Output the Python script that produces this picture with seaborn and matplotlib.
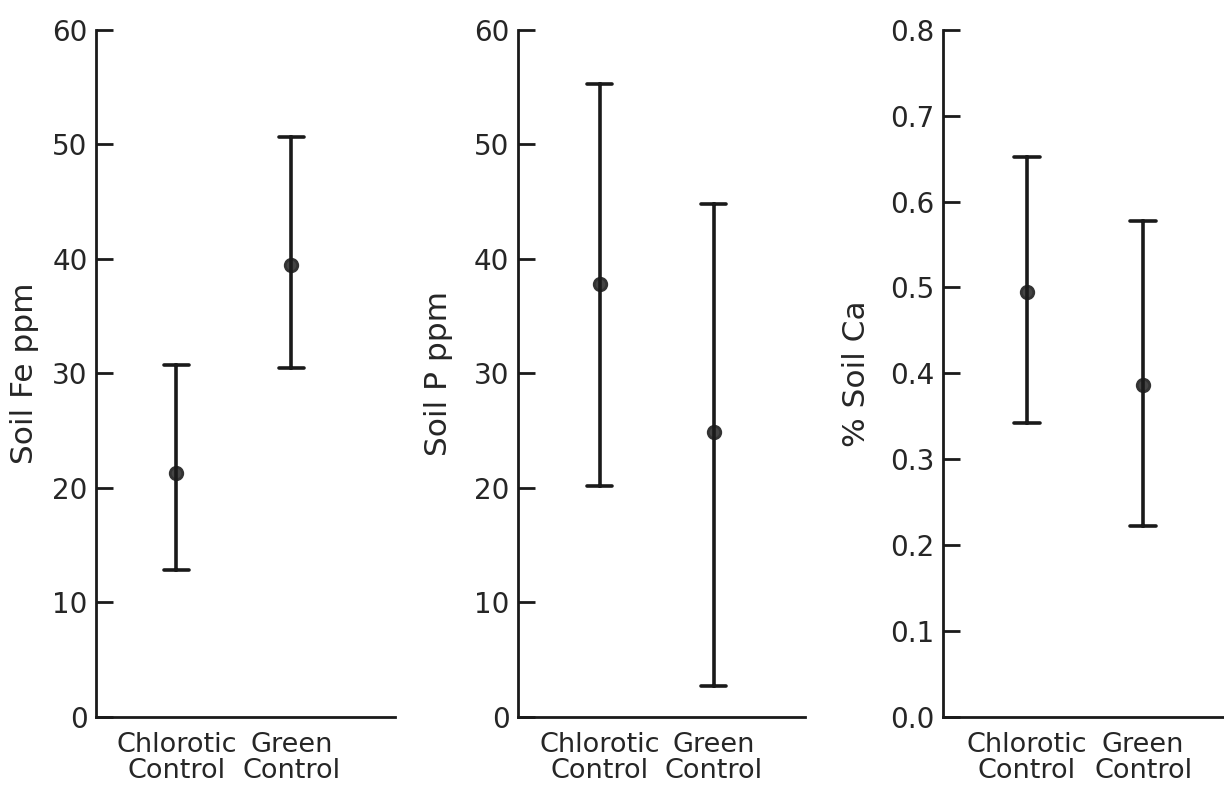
import matplotlib
matplotlib.use("Agg")
import matplotlib.pyplot as plt
import seaborn as sns
import pandas as pd

categories = ["Chlorotic\nControl", "Green\nControl"]

fe_mean = [21.3, 39.5]
fe_low = [12.8, 30.5]
fe_high = [30.7, 50.6]

p_mean = [37.8, 24.9]
p_low = [20.2, 2.7]
p_high = [55.3, 44.8]

ca_mean = [0.495, 0.386]
ca_low = [0.342, 0.222]
ca_high = [0.652, 0.578]

ylabels = ["Soil Fe ppm", "Soil P ppm", "% Soil Ca"]
yticks_list = [[0, 10, 20, 30, 40, 50, 60], [0, 10, 20, 30, 40, 50, 60],
               [0.0, 0.1, 0.2, 0.3, 0.4, 0.5, 0.6, 0.7, 0.8]]
yticklabels_list = [["0", "10", "20", "30", "40", "50", "60"],
                    ["0", "10", "20", "30", "40", "50", "60"],
                    ["0.0", "0.1", "0.2", "0.3", "0.4", "0.5", "0.6", "0.7", "0.8"]]
ylims = [(0, 60), (0, 60), (0, 0.8)]

sns.set_theme(style="white")
plt.rcParams['font.family'] = ['DejaVu Sans']


def make_df(low, mean, high):
    rows = []
    for c, l, m, h in zip(categories, low, mean, high):
        for v in (l, m, h):
            rows.append({"group": c, "value": v})
    return pd.DataFrame(rows)


dfs = [make_df(fe_low, fe_mean, fe_high),
       make_df(p_low, p_mean, p_high),
       make_df(ca_low, ca_mean, ca_high)]

fig = plt.figure(figsize=(12.24, 7.86), dpi=100)
positions = [[0.0784, 0.088, 0.244, 0.874],
             [0.423, 0.088, 0.2345, 0.874],
             [0.7704, 0.088, 0.232, 0.874]]
xlims = [(-0.70, 1.90), (-0.72, 1.80), (-0.72, 1.72)]
label_x = [-0.19, -0.225, -0.255]

ink = "#1a1a1a"
for i in range(3):
    ax = fig.add_axes(positions[i])
    sns.pointplot(data=dfs[i], x="group", y="value", order=categories,
                  estimator="median", errorbar=("pi", 100), capsize=0.22,
                  linestyle="none", color=ink, markersize=9,
                  err_kws={"linewidth": 2.6, "color": ink}, ax=ax)
    for line in ax.lines:
        if line.get_marker() not in (None, "None", ""):
            line.set_markerfacecolor("#444444")
            line.set_markeredgecolor("#333333")
    ax.set_xlim(*xlims[i])
    ax.set_ylim(*ylims[i])
    ax.set_yticks(yticks_list[i])
    ax.set_yticklabels(yticklabels_list[i])
    ax.set_xlabel("")
    ax.set_ylabel(ylabels[i], fontsize=22.5)
    ax.yaxis.set_label_coords(label_x[i], 0.5)
    for s in ["top", "right"]:
        ax.spines[s].set_visible(False)
    for s in ["left", "bottom"]:
        ax.spines[s].set_linewidth(2.0)
        ax.spines[s].set_color(ink)
    ax.tick_params(axis="y", direction="in", length=12, width=2.0,
                   color=ink, labelsize=20, pad=6, left=True)
    ax.tick_params(axis="x", length=0, labelsize=19.5, pad=11)
    for lab in ax.get_xticklabels():
        lab.set_linespacing(1.0)
    ax.set_facecolor("white")

fig.savefig("out.png", dpi=100, facecolor="white")
